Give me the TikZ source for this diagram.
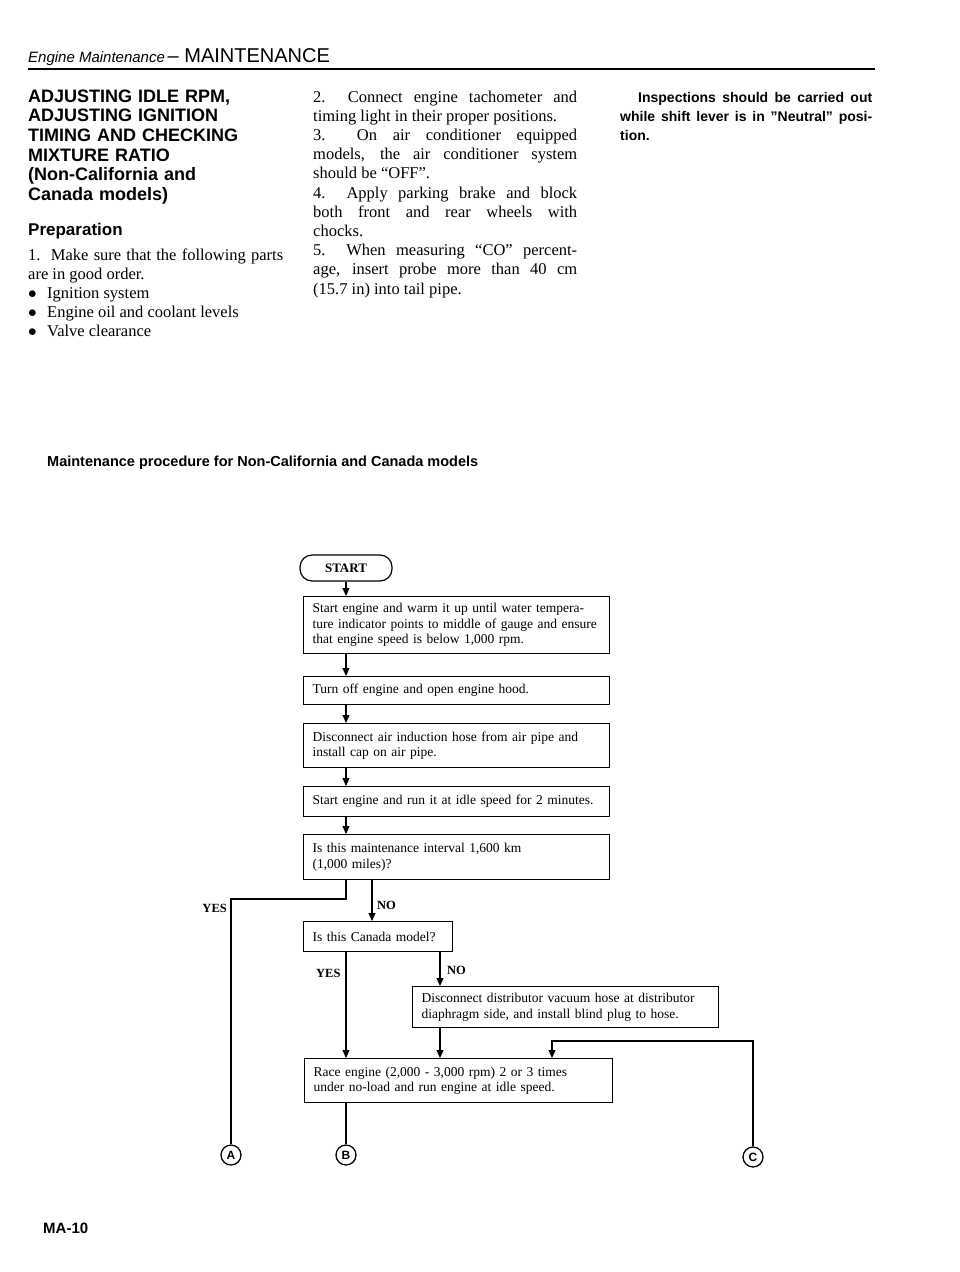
\documentclass[tikz,border=0pt]{standalone}
\usepackage{fontspec}
\setmainfont{Liberation Serif}
\setsansfont{Liberation Sans}
\usetikzlibrary{arrows.meta}
\newcommand\bodysize{\fontsize{16.5pt}{19.2pt}\selectfont}
\newcommand\boxsize{\fontsize{13.5pt}{15.5pt}\selectfont\hyphenpenalty=10000\exhyphenpenalty=10000}
\newcommand\tagsize{\fontsize{12.5pt}{14pt}\selectfont\bfseries}
\begin{document}
\begin{tikzpicture}[x=1pt, y=-1pt,
  stepbox/.style={draw, line width=1.2pt, rectangle, anchor=north west, inner xsep=9pt, inner ysep=0pt, align=left, font=\boxsize},
  arr/.style={line width=1.2pt, -{Triangle[length=8pt,width=7pt]}},
  wire/.style={line width=1.2pt},
  tag/.style={inner sep=0pt, font=\tagsize},
  conn/.style={draw, circle, line width=1.3pt, minimum size=20pt, inner sep=0pt, font=\sffamily\bfseries\fontsize{12pt}{12pt}\selectfont},
  textblock/.style={anchor=base west, inner sep=0pt}]
\useasboundingbox (0,0) rectangle (960,1272);

% page head
\node[textblock, font=\sffamily] (head) at (28,62) {{\itshape\fontsize{15pt}{16pt}\selectfont Engine Maintenance}\ {\fontsize{20pt}{22pt}\selectfont -- MAINTENANCE}};
\draw[line width=2pt] (28,69) -- (875,69);

% first column
\node[textblock, text width=255pt, align=left, font=\sffamily\bfseries\fontsize{18pt}{19.7pt}\selectfont] (heading) at (28,102) {ADJUSTING IDLE RPM,\\ADJUSTING IGNITION\\TIMING AND CHECKING\\MIXTURE RATIO\\(Non-California and\\Canada models)};
\node[textblock, font=\sffamily\bfseries\fontsize{17pt}{19pt}\selectfont] (prep) at (28,235) {Preparation};
\node[textblock, text width=255pt, align=justify, font=\bodysize] (parts) at (28,260) {1.\ \ Make sure that the following parts\linebreak are in good order.\\
\makebox[19pt][l]{$\bullet$}Ignition system\\
\makebox[19pt][l]{$\bullet$}Engine oil and coolant levels\\
\makebox[19pt][l]{$\bullet$}Valve clearance};

% second column
\node[textblock, text width=264pt, align=justify, font=\bodysize] (steps) at (313,102) {2.\ \ Connect engine tachometer and\linebreak timing light in their proper positions.\\
3.\ \ On air conditioner equipped\linebreak models, the air conditioner system\linebreak should be “OFF”.\\
4.\ \ Apply parking brake and block\linebreak both front and rear wheels with\linebreak chocks.\\
5.\ \ When measuring “CO” percent-\linebreak age, insert probe more than 40 cm\linebreak (15.7 in) into tail pipe.};

% third column
\node[textblock, text width=252pt, align=justify, font=\sffamily\bfseries\fontsize{14pt}{19.2pt}\selectfont] (note) at (620,102) {\hspace*{18pt}Inspections should be carried out\linebreak while shift lever is in "Neutral" posi-\linebreak tion.};

\node[textblock, font=\sffamily\bfseries\fontsize{14.5pt}{16pt}\selectfont] (chart) at (47,466) {Maintenance procedure for Non-California and Canada models};

% flow chart
\node[draw, line width=1.2pt, rounded corners=12pt, minimum width=92pt, minimum height=26pt, inner sep=0pt, font=\fontsize{13pt}{14pt}\selectfont\bfseries] (start) at (346,568) {START};
\node[stepbox, minimum width=306pt, minimum height=57pt, text width=288pt] (warm) at (303,596) {Start engine and warm it up until water tempera-\\ture indicator points to middle of gauge and ensure\\that engine speed is below 1,000 rpm.};
\node[stepbox, minimum width=306pt, minimum height=28pt, text width=288pt] (hood) at (303,676) {Turn off engine and open engine hood.};
\node[stepbox, minimum width=306pt, minimum height=44pt, text width=288pt] (hose) at (303,723) {Disconnect air induction hose from air pipe and\\install cap on air pipe.};
\node[stepbox, minimum width=306pt, minimum height=30pt, text width=288pt] (idle) at (303,786) {Start engine and run it at idle speed for 2 minutes.};
\node[stepbox, minimum width=306pt, minimum height=45pt, text width=288pt] (interval) at (303,834) {Is this maintenance interval 1,600 km\\(1,000 miles)?};
\node[stepbox, minimum width=149pt, minimum height=30pt, text width=131pt] (canada) at (303,921) {Is this Canada model?};
\node[stepbox, minimum width=306pt, minimum height=41pt, text width=288pt] (vacuum) at (412,986) {Disconnect distributor vacuum hose at distributor\\diaphragm side, and install blind plug to hose.};
\node[stepbox, minimum width=308pt, minimum height=44pt, text width=290pt] (race) at (304,1058) {Race engine (2,000 - 3,000 rpm) 2 or 3 times\\under no-load and run engine at idle speed.};

\node[conn] (markA) at (231,1155) {A};
\node[conn] (markB) at (346,1155) {B};
\node[conn] (markC) at (753,1157) {C};

\coordinate (nocol) at (372,0);
\coordinate (vaccol) at (440,0);
\coordinate (ccol) at (552,0);
\coordinate (yesturn) at (231,899);
\coordinate (cturn) at (753,1041);

\draw[arr] (start) -- (start |- warm.north);
\draw[arr] (warm.south -| start) -- (hood.north -| start);
\draw[arr] (hood.south -| start) -- (hose.north -| start);
\draw[arr] (hose.south -| start) -- (idle.north -| start);
\draw[arr] (idle.south -| start) -- (interval.north -| start);
\draw[wire] (interval.south -| start) |- (yesturn) -- (markA);
\draw[arr] (interval.south -| nocol) -- (canada.north -| nocol);
\draw[arr] (canada.south -| start) -- (race.north -| start);
\draw[arr] (canada.south -| vaccol) -- (vacuum.north -| vaccol);
\draw[arr] (vacuum.south -| vaccol) -- (race.north -| vaccol);
\draw[arr] (markC) -- (cturn) -| (race.north -| ccol);
\draw[wire] (race.south -| start) -- (markB);

\node[tag, anchor=east] (yesA) at (227,908) {YES};
\node[tag, anchor=west] (noA) at (377,905) {NO};
\node[tag, anchor=west] (yesB) at (316,973) {YES};
\node[tag, anchor=west] (noB) at (447,970) {NO};

\node[textblock, font=\sffamily\bfseries\fontsize{15pt}{16pt}\selectfont] (page) at (43,1233) {MA-10};
\end{tikzpicture}
\end{document}
